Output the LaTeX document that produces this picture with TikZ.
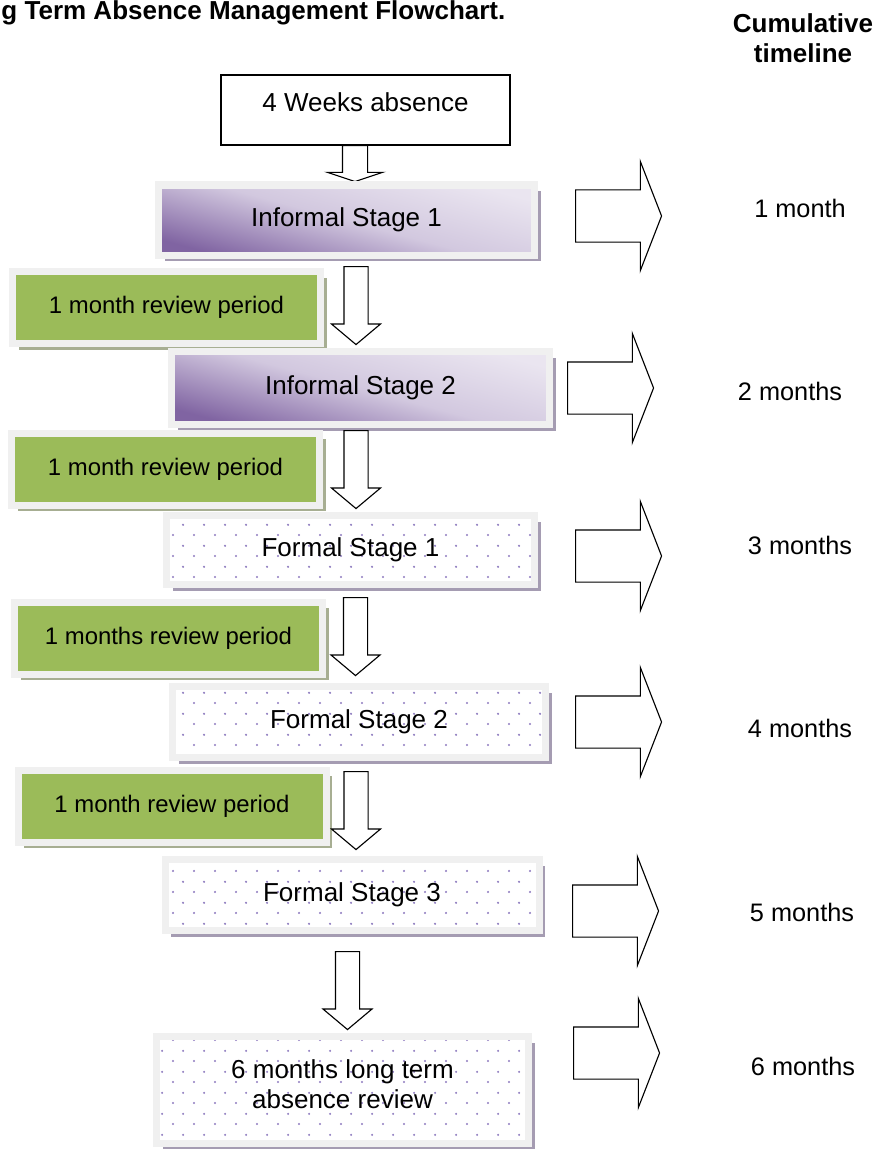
\documentclass[tikz,border=0pt]{standalone}
\usepackage{fontspec}
\setmainfont{Liberation Sans}
\usetikzlibrary{shapes,arrows,shadows,patterns.meta}

\definecolor{reviewgreen}{HTML}{9BBB59}
\definecolor{greenshadow}{HTML}{A7AE92}
\definecolor{purpleshadow}{HTML}{A59CB2}
\definecolor{framegray}{HTML}{F0F0F0}
\definecolor{purpledark}{HTML}{8064A2}
\definecolor{purplemid}{HTML}{D2C8DF}
\definecolor{purplelight}{HTML}{EAE5F0}
\definecolor{dotpurple}{HTML}{8E7CC0}

\tikzdeclarepattern{
    name=stagedots,
    type=uncolored,
    bounding box={(0,0) and (0.525cm,0.525cm)},
    tile size={(0.525cm,0.525cm)},
    code={
        \fill (0.13125cm,0.13125cm) circle (0.03cm);
        \fill (0.39375cm,0.39375cm) circle (0.03cm);
    }
}

\tikzset{
    heading/.style={font=\bfseries\fontsize{18.5}{21.3}\selectfont},
    start/.style={draw, line width=0.8pt, fill=white, minimum width=7.225cm, minimum height=1.75cm,
                  text depth=0.4cm, font=\fontsize{18.5}{22}\selectfont},
    stagebox/.style={draw=framegray, line width=0.175cm, font=\fontsize{18.5}{21.3}\selectfont,
                     drop shadow={shadow xshift=0.16cm, shadow yshift=-0.16cm, fill=#1, opacity=1}},
    informal/.style={stagebox=purpleshadow, top color=purplelight, bottom color=purpledark,
                     middle color=purplemid, shading angle=-15, minimum width=9.4cm, minimum height=1.75cm},
    review/.style={stagebox=greenshadow, fill=reviewgreen, minimum width=7.7cm, minimum height=1.8cm,
                   font=\fontsize{17}{20}\selectfont},
    formal/.style={stagebox=purpleshadow, preaction={fill=white}, pattern=stagedots, pattern color=dotpurple,
                   minimum width=9.35cm, minimum height=1.775cm},
    downarrow/.style={single arrow, draw, line width=0.8pt, fill=white, shape border rotate=270, anchor=tail,
                      inner sep=0.2875cm, minimum width=1.2cm, single arrow head extend=0.3125cm,
                      single arrow tip angle=100, minimum height=1.95cm},
    timearrow/.style={single arrow, draw, line width=0.8pt, fill=white, anchor=tail,
                      inner sep=0.6375cm, minimum width=2.7cm, single arrow head extend=0.7125cm,
                      single arrow tip angle=137.5, minimum height=2.15cm},
    timelabel/.style={font=\fontsize{18}{21}\selectfont},
}

\begin{document}
\begin{tikzpicture}
    \useasboundingbox (0,0) rectangle (21.95,-28.725);

    % Headings
    \node[heading, anchor=base west, inner sep=0pt] (title) at (0.03,-0.48) {g Term Absence Management Flowchart.};
    \node[heading, align=center] (cumul) at (20.075,-0.95) {Cumulative\\timeline};

    % Start
    \node[start] (weeks) at (9.1375,-2.75) {4 Weeks absence};
    \node[downarrow, inner sep=0.3cm, minimum width=1.35cm, single arrow head extend=0.375cm,
          single arrow tip angle=143, minimum height=0.9cm] (d0) at (8.875,-3.625) {};

    % Informal stages
    \node[informal] (inf1) at (8.6625,-5.5) {Informal Stage 1};
    \node[review] (rev1) at (4.1625,-7.6875) {1 month review period};
    \node[downarrow] (d1) at (8.9,-6.65) {};
    \node[informal, minimum width=9.45cm, minimum height=1.825cm] (inf2) at (9.0125,-9.7) {Informal Stage 2};
    \node[review] (rev2) at (4.1375,-11.725) {1 month review period};
    \node[downarrow] (d2) at (8.9,-10.75) {};

    % Formal stages
    \node[formal, minimum width=9.2cm, minimum height=1.725cm] (form1) at (8.7625,-13.75) {Formal Stage 1};
    \node[review] (rev3) at (4.2125,-15.95) {1 months review period};
    \node[downarrow] (d3) at (8.8875,-14.925) {};
    \node[formal, minimum width=9.325cm] (form2) at (8.975,-18.05) {Formal Stage 2};
    \node[review] (rev4) at (4.3,-20.15) {1 month review period};
    \node[downarrow] (d4) at (8.9,-19.275) {};
    \node[formal] (form3) at (8.8,-22.375) {Formal Stage 3};
    \node[downarrow] (d5) at (8.6875,-23.775) {};

    % Final review
    \node[formal, minimum width=9.3cm, minimum height=2.675cm, align=center, text depth=0.3cm]
        (final) at (8.5625,-27.25) {6 months long term\\absence review};

    % Timeline
    \node[timearrow] (t1) at (14.375,-5.4) {};
    \node[timearrow] (t2) at (14.175,-9.7) {};
    \node[timearrow] (t3) at (14.375,-13.9) {};
    \node[timearrow] (t4) at (14.375,-18.05) {};
    \node[timearrow] (t5) at (14.3,-22.775) {};
    \node[timearrow] (t6) at (14.325,-26.325) {};

    \node[timelabel] (m1) at (20.0,-5.2) {1 month};
    \node[timelabel] (m2) at (19.75,-9.775) {2 months};
    \node[timelabel] (m3) at (20.0,-13.625) {3 months};
    \node[timelabel] (m4) at (20.0,-18.2) {4 months};
    \node[timelabel] (m5) at (20.05,-22.8) {5 months};
    \node[timelabel] (m6) at (20.075,-26.65) {6 months};
\end{tikzpicture}
\end{document}
